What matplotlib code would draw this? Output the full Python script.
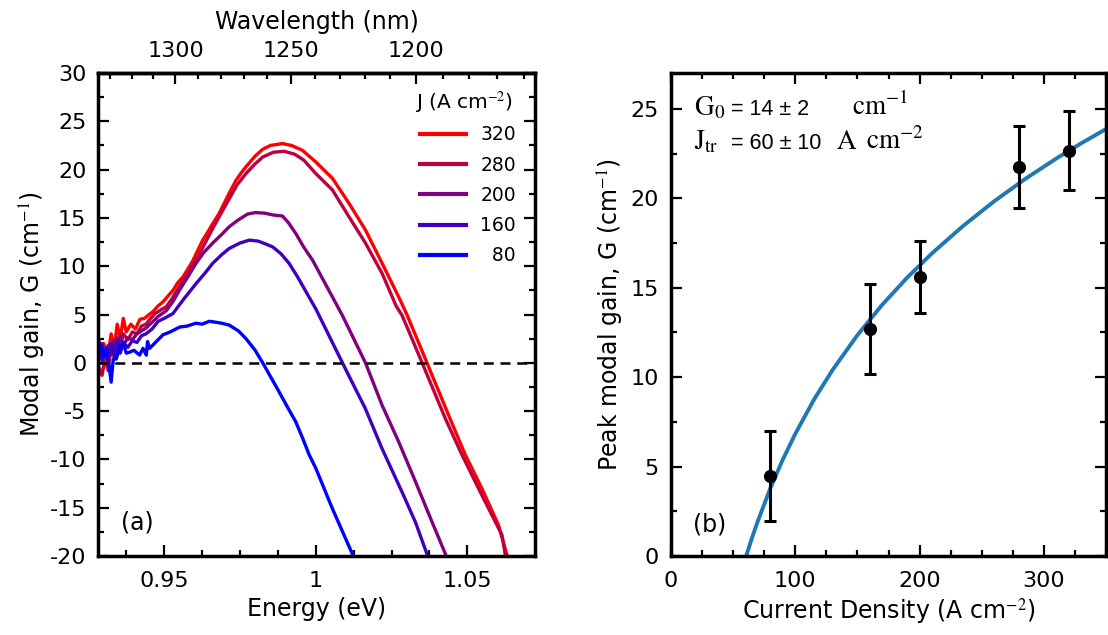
import numpy as np
import matplotlib
matplotlib.use("Agg")
import matplotlib.pyplot as plt
from matplotlib.ticker import MultipleLocator, FuncFormatter

# ---------------- data ----------------
J_labels = ["320", "280", "200", "160", "\u200780"]
curve_colors = ["#ff0000", "#bf0040", "#800080", "#4000bf", "#0000ff"]

E_320 = [0.9285, 0.9300, 0.9315, 0.9325, 0.9335, 0.9345, 0.9355, 0.9365, 0.9375, 0.9390,
         0.9405, 0.9420, 0.9435, 0.9450, 0.9463, 0.9480, 0.9496, 0.9515, 0.9529, 0.9545,
         0.9562, 0.9580, 0.9595, 0.9610, 0.9627, 0.9645, 0.9660, 0.9680, 0.9693, 0.9715,
         0.9737, 0.9755, 0.9770, 0.9800, 0.9825, 0.9850, 0.9890, 0.9920, 0.9956, 1.0000,
         1.0055, 1.0110, 1.0164, 1.0219, 1.0274, 1.0302, 1.0367, 1.0438, 1.0493, 1.0548,
         1.0603, 1.0630, 1.0640]
G_320 = [0.6, 2.0, 0.8, 3.0, 1.5, 4.0, 2.5, 4.6, 3.2, 4.0,
         3.5, 4.5, 4.6, 5.0, 5.3, 5.9, 6.3, 7.0, 7.5, 8.3,
         8.9, 9.8, 10.6, 11.6, 12.7, 13.6, 14.4, 15.4, 16.2, 17.6,
         18.9, 19.7, 20.3, 21.4, 22.1, 22.5, 22.7, 22.5, 22.0, 20.8,
         19.1, 16.5, 13.75, 10.3, 6.8, 4.9, 0.0, -5.4, -9.5, -13.0,
         -16.8, -19.8, -21.0]

E_280 = [0.9285, 0.9295, 0.9305, 0.9315, 0.9325, 0.9335, 0.9345, 0.9355, 0.9365, 0.9380,
         0.9395, 0.9410, 0.9425, 0.9440, 0.9455, 0.9470, 0.9490, 0.9507, 0.9525, 0.9550,
         0.9570, 0.9590, 0.9605, 0.9630, 0.9660, 0.9690, 0.9715, 0.9740, 0.9770, 0.9800,
         0.9825, 0.9860, 0.9896, 0.9930, 0.9960, 1.0000, 1.0055, 1.0110, 1.0164, 1.0219,
         1.0265, 1.0285, 1.0351, 1.0428, 1.0482, 1.0548, 1.0614, 1.0625, 1.0635]
G_280 = [-0.5, -1.3, 0.5, -0.8, 1.8, 0.6, 2.6, 1.5, 3.0, 2.4,
         3.2, 3.0, 3.8, 4.0, 4.6, 5.1, 5.5, 5.8, 6.6, 7.9,
         8.9, 9.9, 10.6, 12.1, 13.9, 15.6, 17.0, 18.4, 19.6, 20.6,
         21.3, 21.8, 21.9, 21.6, 21.0, 19.6, 17.9, 15.1, 12.4, 9.25,
         5.9, 4.9, 0.0, -5.8, -9.5, -13.7, -17.8, -19.8, -21.0]

E_200 = [0.9285, 0.9295, 0.9305, 0.9315, 0.9325, 0.9335, 0.9345, 0.9355, 0.9365, 0.9380,
         0.9395, 0.9410, 0.9425, 0.9440, 0.9460, 0.9480, 0.9507, 0.9530, 0.9550, 0.9580,
         0.9605, 0.9630, 0.9660, 0.9690, 0.9715, 0.9745, 0.9775, 0.9800, 0.9830, 0.9860,
         0.9890, 0.9910, 0.9934, 0.9960, 0.9990, 1.0045, 1.0088, 1.0164, 1.0219, 1.0274,
         1.0329, 1.0384, 1.0428, 1.0436]
G_200 = [1.0, 2.0, 0.5, 1.8, 0.8, 2.3, 1.2, 2.8, 1.8, 2.6,
         2.4, 3.0, 3.3, 3.6, 4.2, 4.8, 5.4, 6.4, 7.5, 9.0,
         10.3, 11.4, 12.4, 13.3, 14.1, 14.8, 15.4, 15.55, 15.5, 15.3,
         15.2, 14.5, 13.4, 12.0, 10.6, 7.4, 4.9, 0.0, -4.4, -8.2,
         -12.3, -16.5, -19.8, -21.0]

E_160 = [0.9285, 0.9295, 0.9305, 0.9315, 0.9325, 0.9335, 0.9345, 0.9355, 0.9365, 0.9380,
         0.9395, 0.9410, 0.9425, 0.9440, 0.9460, 0.9480, 0.9500, 0.9529, 0.9562, 0.9590,
         0.9605, 0.9635, 0.9660, 0.9690, 0.9715, 0.9750, 0.9781, 0.9810, 0.9835, 0.9858,
         0.9885, 0.9912, 0.9940, 0.9978, 1.0000, 1.0088, 1.0164, 1.0219, 1.0285, 1.0329,
         1.0367, 1.0375]
G_160 = [2.2, 0.2, 1.5, 0.6, 2.0, 0.7, 2.4, 1.0, 2.1, 1.6,
         2.3, 2.1, 2.8, 3.0, 3.5, 4.3, 4.6, 5.1, 6.5, 7.6,
         8.2, 9.3, 10.3, 11.2, 11.85, 12.4, 12.7, 12.6, 12.3, 12.0,
         11.3, 10.3, 8.9, 6.8, 5.6, 0.0, -4.76, -8.9, -13.4, -16.5,
         -19.8, -21.0]

E_80 = [0.9285, 0.9293, 0.9300, 0.9310, 0.9318, 0.9325, 0.9332, 0.9342, 0.9352, 0.9364,
        0.9375, 0.9386, 0.9400, 0.9419, 0.9430, 0.9441, 0.9445, 0.9452, 0.9474, 0.9496,
        0.9520, 0.9551, 0.9575, 0.9605, 0.9625, 0.9649, 0.9670, 0.9690, 0.9715, 0.9745,
        0.9770, 0.9800, 0.9825, 0.9852, 0.9879, 0.9907, 0.9934, 0.9958, 0.9978, 1.0000,
        1.0055, 1.0121, 1.0130]
G_80 = [1.2, 1.8, 0.6, 1.5, -0.3, -2.0, 0.4, 0.4, 1.5, 2.1,
        1.0, 1.1, 1.3, 0.8, 1.5, 0.8, 2.2, 1.5, 2.2, 2.9,
        3.2, 3.7, 3.8, 4.1, 4.0, 4.3, 4.2, 4.1, 3.9, 3.3,
        2.5, 1.3, 0.0, -1.5, -3.0, -4.6, -6.1, -7.9, -9.5, -10.9,
        -15.1, -19.8, -21.0]

E_curves = [E_320, E_280, E_200, E_160, E_80]
G_curves = [G_320, G_280, G_200, G_160, G_80]

# panel (b)
J_points = [80, 160, 200, 280, 320]
G_peak = [4.47, 12.7, 15.6, 21.75, 22.65]
G_err = [2.5, 2.5, 2.0, 2.3, 2.2]

# fit curve, points
J_fit = [60.5, 65, 70, 80, 90, 100, 115, 130, 150, 170, 190, 210, 235, 260, 285, 310, 330, 350]
G_fit = [0.0, 0.98, 1.98, 3.80, 5.40, 6.83, 8.74, 10.40, 12.35, 14.05, 15.56, 16.92,
         18.45, 19.83, 21.08, 22.22, 23.07, 23.87]

wl_major = [1200, 1250, 1300]

# ---------------- style ----------------
plt.rcParams['font.family'] = ['DejaVu Sans']
plt.rcParams['mathtext.fontset'] = 'stix'
plt.rcParams['axes.unicode_minus'] = False
FT = 16     # tick labels
FL = 17     # axis labels
FG = 13.5   # legend
FA = 17     # panel letters

fig = plt.figure(figsize=(11.08, 6.35), dpi=100)
ax1 = fig.add_axes([0.0880, 0.1244, 0.3953, 0.7606])
ax2 = fig.add_axes([0.6056, 0.1244, 0.3926, 0.7606])

SPW = 2.5
for ax in (ax1, ax2):
    for s in ax.spines.values():
        s.set_linewidth(SPW)

# ---------------- panel (a) ----------------
for E, G, c, lab in zip(E_curves, G_curves, curve_colors, J_labels):
    ax1.plot(E, G, color=c, lw=2.4, label=lab, solid_joinstyle='round')
ax1.axhline(0, color='black', lw=1.8, linestyle=(0, (4, 2.7)))

ax1.set_xlim(0.928, 1.0725)
ax1.set_ylim(-20, 30)
ax1.xaxis.set_major_locator(MultipleLocator(0.05))
ax1.xaxis.set_minor_locator(MultipleLocator(0.0125))
ax1.yaxis.set_major_locator(MultipleLocator(5))
ax1.yaxis.set_minor_locator(MultipleLocator(2.5))
ax1.xaxis.set_major_formatter(FuncFormatter(lambda v, p: '%g' % round(v, 4)))
ax1.tick_params(which='both', direction='in', top=False, right=True, labelsize=FT, width=1.6)
ax1.tick_params(which='major', length=8)
ax1.tick_params(which='minor', length=4)
ax1.tick_params(axis='x', pad=10.5)
ax1.tick_params(axis='y', pad=8)
ax1.set_xlabel('Energy (eV)', fontsize=FL, labelpad=4.5)
ax1.set_ylabel('Modal gain, G (cm$^{-1}$)', fontsize=FL, labelpad=1.5)
ax1.text(0.054, 0.07, '(a)', transform=ax1.transAxes, fontsize=FA, ha='left', va='center')


def e2wl(x):
    x = np.asarray(x, dtype=float)
    with np.errstate(divide='ignore', invalid='ignore'):
        return 1239.84 / x


secax = ax1.secondary_xaxis('top', functions=(e2wl, e2wl))
secax.set_xticks(wl_major)
secax.xaxis.set_minor_locator(MultipleLocator(10))
secax.tick_params(which='both', direction='in', labelsize=FT, width=1.6, pad=9)
secax.tick_params(which='major', length=8)
secax.tick_params(which='minor', length=4)
secax.spines['top'].set_linewidth(SPW)
secax.set_xlabel('Wavelength (nm)', fontsize=FL, labelpad=8.5)

leg = ax1.legend(frameon=False, fontsize=FG, loc='upper right',
                 bbox_to_anchor=(0.955, 0.8917), borderaxespad=0, borderpad=0,
                 handlelength=2.45, handletextpad=0.75, labelspacing=0.6)
for ln in leg.get_lines():
    ln.set_linewidth(3)
ax1.text(0.725, 0.938, 'J (A cm$^{-2}$)', transform=ax1.transAxes, fontsize=14.5,
         ha='left', va='center')

# ---------------- panel (b) ----------------
ax2.plot(J_fit, G_fit, color='#1f77b4', lw=2.8, zorder=2)
ax2.errorbar(J_points, G_peak, yerr=G_err, fmt='o', color='black', ms=8.5,
             elinewidth=2.2, capsize=4, capthick=2.2, zorder=3)
ax2.set_xlim(0, 350)
ax2.set_ylim(0, 27)
ax2.xaxis.set_major_locator(MultipleLocator(100))
ax2.xaxis.set_minor_locator(MultipleLocator(25))
ax2.yaxis.set_major_locator(MultipleLocator(5))
ax2.yaxis.set_minor_locator(MultipleLocator(2.5))
ax2.tick_params(which='both', direction='in', top=True, right=True, labelsize=FT, width=1.6)
ax2.tick_params(which='major', length=8)
ax2.tick_params(which='minor', length=4)
ax2.tick_params(axis='x', pad=10.5)
ax2.tick_params(axis='y', pad=9)
ax2.set_xlabel('Current Density (A cm$^{-2}$)', fontsize=FL, labelpad=4.5)
ax2.set_ylabel('Peak modal gain, G (cm$^{-1}$)', fontsize=FL, labelpad=3)
ax2.text(0.050, 0.066, '(b)', transform=ax2.transAxes, fontsize=FA, ha='left', va='center')

# fit-parameter annotation: serif symbols, sans numbers
SERIF = 19.5
SANS = dict(fontsize=15.5, family=['Liberation Sans', 'DejaVu Sans'])
y1, y2 = 0.913, 0.8427
ax2.text(0.054, y1, r'$\mathrm{G_0}$', transform=ax2.transAxes, fontsize=SERIF, va='baseline')
ax2.text(0.138, y1, '= 14 \u00b1 2', transform=ax2.transAxes, va='baseline', **SANS)
ax2.text(0.417, y1, r'$\mathrm{cm^{-1}}$', transform=ax2.transAxes, fontsize=SERIF, va='baseline')
ax2.text(0.054, y2, r'$\mathrm{J_{tr}}$', transform=ax2.transAxes, fontsize=SERIF, va='baseline')
ax2.text(0.138, y2, '= 60 \u00b1 10', transform=ax2.transAxes, va='baseline', **SANS)
ax2.text(0.380, y2, r'$\mathrm{A}$', transform=ax2.transAxes, fontsize=SERIF, va='baseline')
ax2.text(0.448, y2, r'$\mathrm{cm^{-2}}$', transform=ax2.transAxes, fontsize=SERIF, va='baseline')

fig.savefig('out.png', dpi=100)
